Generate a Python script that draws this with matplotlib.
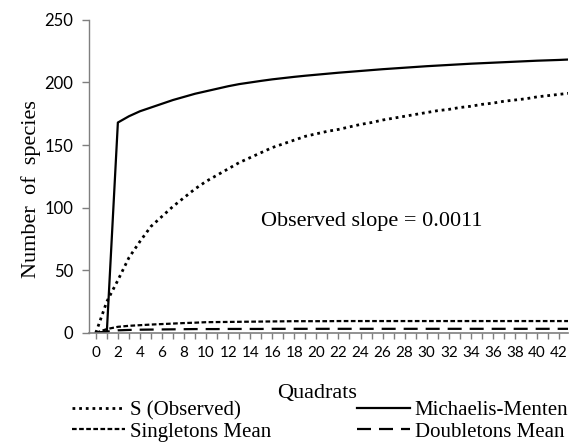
import matplotlib
matplotlib.use("Agg")
import matplotlib.pyplot as plt
from matplotlib.ticker import MultipleLocator, FixedLocator

quadrats = list(range(0, 44))
s_observed = [0, 25, 42, 60, 73, 85, 93, 101, 108, 115, 121, 126, 131, 136, 140, 144,
              148, 151, 154, 157, 159, 161, 162.5, 164.5, 166.5, 168, 170, 171.5, 173,
              174.5, 176, 177.5, 178.5, 180, 181, 182.5, 183.5, 185, 186, 187, 188.5,
              189.5, 190.5, 191.5]
michaelis_menten = [0, 1, 168, 173, 177, 180, 183, 186, 188.5, 191, 193, 195, 197, 198.7,
                    200, 201.3, 202.5, 203.5, 204.5, 205.4, 206.2, 207, 207.8, 208.5, 209.2,
                    209.9, 210.6, 211.2, 211.8, 212.4, 213, 213.5, 214, 214.5, 215, 215.4,
                    215.8, 216.2, 216.6, 217, 217.4, 217.7, 218, 218.4]
singletons_mean = [0, 3, 4.8, 5.6, 6.1, 6.6, 7.0, 7.4, 7.8, 8.1, 8.5, 8.6, 8.7, 8.8, 8.9,
                   9.0, 9.1, 9.2, 9.3, 9.3, 9.3, 9.3, 9.4, 9.4, 9.4, 9.4, 9.4, 9.4, 9.4,
                   9.4, 9.4, 9.4, 9.4, 9.4, 9.4, 9.4, 9.4, 9.4, 9.4, 9.4, 9.4, 9.4, 9.4, 9.4]
doubletons_mean = [0, 1, 2, 2.3, 2.5, 2.6, 2.7, 2.8, 2.9, 3.0, 3.0, 3.0, 3.1, 3.1, 3.1,
                   3.1, 3.2, 3.2, 3.2, 3.2, 3.2, 3.2, 3.2, 3.2, 3.2, 3.2, 3.2, 3.2, 3.2,
                   3.2, 3.2, 3.2, 3.2, 3.2, 3.2, 3.2, 3.2, 3.2, 3.2, 3.2, 3.2, 3.2, 3.2, 3.2]
x_tick_labels = [str(v) for v in range(0, 43, 2)]
y_ticks = [0, 50, 100, 150, 200, 250]

serif = ["Liberation Serif", "DejaVu Serif"]
sans = ["Lato", "DejaVu Sans"]

fig = plt.figure(figsize=(5.69, 4.42), dpi=100)
ax = fig.add_axes([0.156, 0.247, 0.842, 0.708])

lw = 1.6
l1, = ax.plot(quadrats, s_observed, color="black", lw=2.0, linestyle=(0, (1.0, 1.4)),
              dash_capstyle="butt", label="S (Observed)")
l2, = ax.plot(quadrats, michaelis_menten, color="black", lw=lw, label="Michaelis-Menten")
l3, = ax.plot(quadrats, singletons_mean, color="black", lw=lw, linestyle=(0, (2.1, 1.1)),
              label="Singletons Mean")
l4, = ax.plot(quadrats, doubletons_mean, color="black", lw=lw, linestyle=(0, (6.3, 3.6)),
              label="Doubletons Mean")

ax.set_xlim(-0.64, 42.8)
ax.set_ylim(0, 250)
ax.xaxis.set_major_locator(FixedLocator(list(range(0, 43, 2))))
ax.set_xticklabels(x_tick_labels)
ax.xaxis.set_minor_locator(MultipleLocator(1))
ax.set_yticks(y_ticks)

for sp in ["top", "right"]:
    ax.spines[sp].set_visible(False)
ax.spines["left"].set_color("#7f7f7f")
ax.spines["bottom"].set_color("#7f7f7f")
ax.spines["left"].set_linewidth(1.0)
ax.spines["bottom"].set_linewidth(1.2)

ax.tick_params(axis="y", direction="out", length=5, width=1.0, color="#7f7f7f",
               labelsize=12, pad=6)
ax.tick_params(axis="x", which="both", direction="out", length=4.5, width=1.0,
               color="#7f7f7f", labelsize=11, pad=5)
for lab in ax.get_xticklabels() + ax.get_yticklabels():
    lab.set_family(sans)

fig.text(0.055, 0.572, "Number  of  species", family=serif, fontsize=16,
         rotation=90, ha="center", va="center")
fig.text(0.557, 0.110, "Quadrats", family=serif, fontsize=16,
         ha="center", va="center")

ax.text(25.0, 88.7, "Observed slope = 0.0011", family=serif, fontsize=16,
        ha="center", va="center")

common = dict(frameon=False, prop={"family": serif, "size": 15}, handlelength=2.54,
              handletextpad=0.24, labelspacing=0.1, borderpad=0.0, borderaxespad=0.0,
              loc="upper left")
leg1 = fig.legend(handles=[l1, l3], bbox_to_anchor=(0.1265, 0.094), **common)
leg2 = fig.legend(handles=[l2, l4], bbox_to_anchor=(0.627, 0.094), **common)

fig.savefig("out.png", dpi=100)
